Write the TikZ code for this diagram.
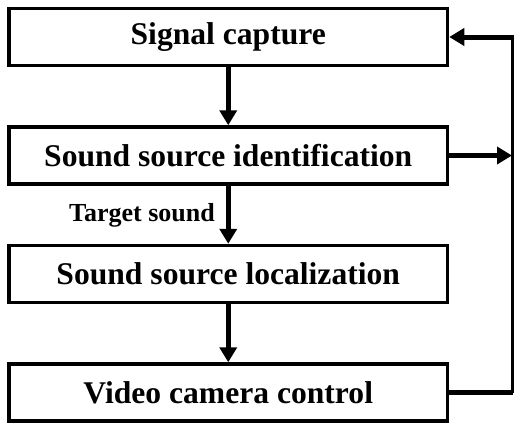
\documentclass[tikz,border=0pt]{standalone}
\usepackage{fontspec}
\setmainfont{Liberation Serif}
\usetikzlibrary{arrows.meta}
\begin{document}
\begin{tikzpicture}[x=1pt,y=-1pt,
  stage/.style={draw, line width=3.5pt, inner sep=0pt, minimum width=438.5pt, minimum height=57pt,
    font=\fontsize{31.6}{37}\selectfont\bfseries},
  flow/.style={line width=5pt, -{Triangle[length=15pt,width=17pt]}},
  back/.style={line width=5pt}]
\useasboundingbox (0,0) rectangle (514,423);
\node[stage] (b1) at (228.25,37) {Signal capture};
\node[stage] (b2) at (228.25,155.5) {Sound source identification};
\node[stage] (b3) at (228.25,274) {Sound source localization};
\node[stage] (b4) at (228.25,392.5) {Video camera control};
\coordinate (rb) at (512.5,392.5);
\coordinate (rt) at (512.5,37);
\coordinate (rm) at (512.5,155.5);
\draw[flow] (b1.south) -- (b2.north);
\draw[flow] (b2.south) -- node[pos=0.5, anchor=east, inner sep=0pt, xshift=-11pt, yshift=-1pt, font=\fontsize{26}{30}\selectfont\bfseries] (lbl) {Target sound} (b3.north);
\draw[flow] (b3.south) -- (b4.north);
\draw[back] (b4.east) -- (rb);
\draw[line width=3pt] (rb) -- (rt);
\draw[flow] ([xshift=1.5pt]rt) -- (b1.east);
\draw[flow] (b2.east) -- ([xshift=-0.5pt]rm);
\end{tikzpicture}
\end{document}
